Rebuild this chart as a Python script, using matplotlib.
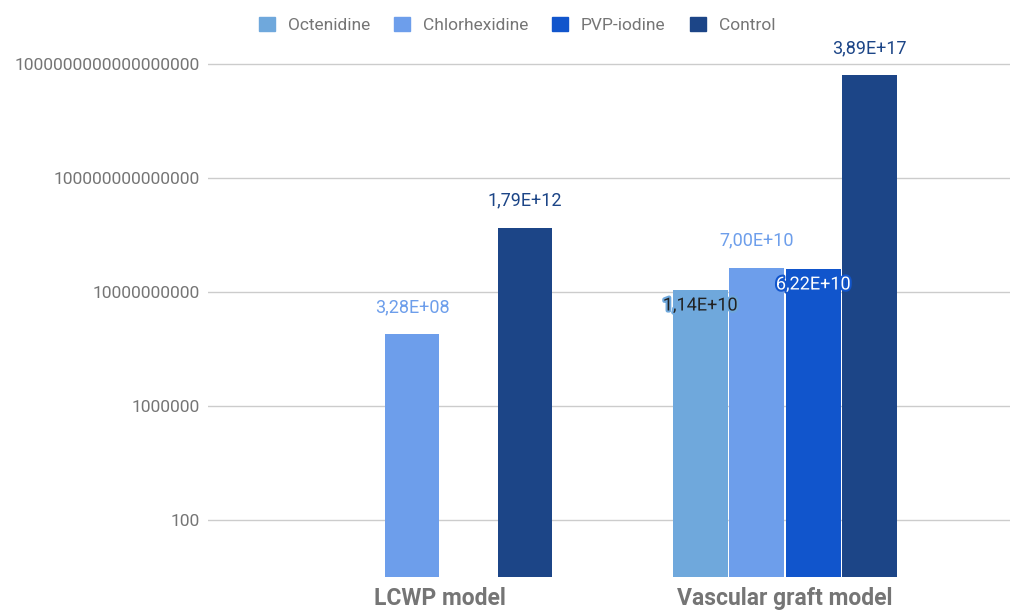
import matplotlib.pyplot as plt
import matplotlib.patheffects as pe
import numpy as np

plt.rcParams['font.family'] = ['Roboto', 'DejaVu Sans']

# data
categories = ['LCWP model', 'Vascular graft model']
series = ['Octenidine', 'Chlorhexidine', 'PVP-iodine', 'Control']
values = {
    'Octenidine':    [None, 1.14e10],
    'Chlorhexidine': [3.28e8, 7.00e10],
    'PVP-iodine':    [None, 6.22e10],
    'Control':       [1.79e12, 3.89e17],
}
value_labels = {
    'Octenidine':    [None, '1,14E+10'],
    'Chlorhexidine': ['3,28E+08', '7,00E+10'],
    'PVP-iodine':    [None, '6,22E+10'],
    'Control':       ['1,79E+12', '3,89E+17'],
}
# label inside bar for these (series, category index)
inside = {('Octenidine', 1), ('PVP-iodine', 1)}
colors = {'Octenidine': '#6fa8dc', 'Chlorhexidine': '#6d9eeb',
          'PVP-iodine': '#1155cc', 'Control': '#1c4587'}
yticks = [1e2, 1e6, 1e10, 1e14, 1e18]

grey = '#757575'

fig = plt.figure(figsize=(10.13, 6.1), dpi=100)
ax = fig.add_axes([0.205, 0.054, 0.792, 0.879])

x = np.arange(len(categories))
slot = 0.164
w = 0.159
for i, s in enumerate(series):
    for j in x:
        v = values[s][j]
        if v is None:
            continue
        xp = j + (i - 1.5) * slot
        ax.bar(xp, v, width=w, color=colors[s], zorder=2)
        lab = value_labels[s][j]
        if (s, j) in inside:
            if s == 'PVP-iodine':
                tc = 'white'
            else:
                tc = '#222222'
            ax.annotate(lab, (xp, v), xytext=(0, -11), textcoords='offset points',
                        ha='center', va='center', fontsize=13, color=tc, zorder=4,
                        path_effects=[pe.withStroke(linewidth=3, foreground=colors[s])])
        else:
            ax.annotate(lab, (xp, v), xytext=(0, 19.5), textcoords='offset points',
                        ha='center', va='center', fontsize=13, color=colors[s], zorder=4)

ax.set_yscale('log')
ax.set_ylim(1, 10 ** 18.8)
ax.set_xlim(-0.675, 1.653)
ax.set_yticks(yticks)
ax.set_yticklabels([str(int(t)) for t in yticks])
ax.minorticks_off()
ax.set_xticks(x)
ax.set_xticklabels(categories, fontsize=16.5, fontweight='bold', color=grey)
ax.tick_params(axis='y', length=0, pad=6, labelsize=12.5, labelcolor=grey)
ax.tick_params(axis='x', length=0, pad=7.5)
ax.grid(axis='y', color='#cccccc', linewidth=1, zorder=0)
for sp in ax.spines.values():
    sp.set_visible(False)

handles = [plt.Rectangle((0, 0), 1, 1, color=colors[s]) for s in series]
fig.legend(handles, series, loc='upper center', bbox_to_anchor=(517 / 1013, 1 - 1 / 610),
           ncol=4, frameon=False, fontsize=12.5, handlelength=0.9, handleheight=0.9,
           columnspacing=1.4, handletextpad=0.75, labelcolor=grey)

fig.savefig('out.png', dpi=100)
